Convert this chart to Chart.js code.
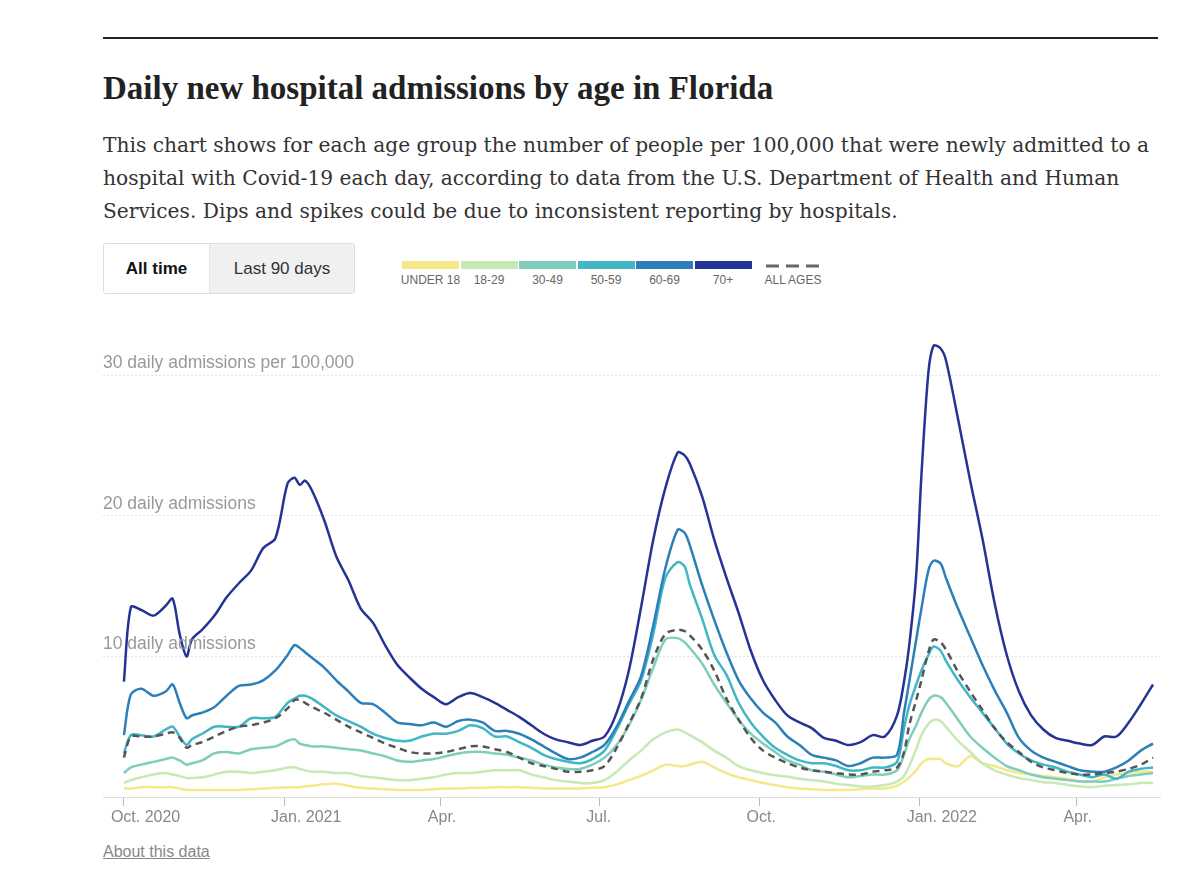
<!DOCTYPE html>
<html>
<head>
<meta charset="utf-8">
<script src="https://cdn.jsdelivr.net/npm/chart.js@4.4.1/dist/chart.umd.min.js"></script>
<style>
  body { margin: 0; background: #fff; width: 1200px; height: 875px; position: relative; overflow: hidden; }
  .rule { position: absolute; left: 103px; top: 37px; width: 1055px; height: 2px; background: #222; }
  h1 { position: absolute; left: 103px; top: 72px; margin: 0; font: bold 33px/33px "Liberation Serif", serif; color: #222; white-space: nowrap; }
  .sub { position: absolute; left: 103px; top: 129px; margin: 0; font: 20.2px/33px "DejaVu Serif", serif; color: #333; white-space: nowrap; }
  .btns { position: absolute; left: 103px; top: 243px; width: 250px; height: 49px; border: 1px solid #ddd; border-radius: 3px; display: flex; font: 17px "Liberation Sans", Arial, sans-serif; color: #333; overflow: hidden; }
  .btns div { display: flex; align-items: center; justify-content: center; }
  .b1 { width: 105px; background: #fff; font-weight: bold; color: #111; }
  .b2 { flex: 1; background: #f0f0f0; border-left: 1px solid #e4e4e4; }
  .legend { position: absolute; left: 402px; top: 261px; font: 12px "Liberation Sans", Arial, sans-serif; color: #666; }
  .seg { position: absolute; top: 0; height: 8px; }
  .lab { position: absolute; top: 12px; width: 70px; text-align: center; }
  #wrap { position: absolute; left: 0; top: 300px; width: 1200px; height: 540px; }
  .about { position: absolute; left: 103px; top: 843px; font: 16px "Liberation Sans", Arial, sans-serif; color: #888; text-decoration: underline; }
</style>
</head>
<body>
<div class="rule"></div>
<h1>Daily new hospital admissions by age in Florida</h1>
<p class="sub">This chart shows for each age group the number of people per 100,000 that were newly admitted to a<br>hospital with Covid-19 each day, according to data from the U.S. Department of Health and Human<br>Services. Dips and spikes could be due to inconsistent reporting by hospitals.</p>
<div class="btns"><div class="b1">All time</div><div class="b2">Last 90 days</div></div>
<div class="legend" id="legend"></div>
<div id="wrap"><canvas id="chart" width="1200" height="540"></canvas></div>
<div class="about">About this data</div>
<script>
// days since Oct. 1, 2020
const days = [0, 4, 10, 17, 24, 28, 32, 36, 39, 45, 52, 59, 66, 73, 80, 87, 94, 98, 101, 104,
  108, 115, 122, 129, 136, 143, 150, 157, 164, 171, 178, 185, 192, 199, 206, 213, 220, 227, 234, 241,
  248, 255, 262, 269, 276, 283, 290, 297, 304, 311, 318, 322, 325, 332, 339, 346, 353, 360, 367, 374,
  381, 388, 395, 402, 409, 416, 423, 430, 437, 444, 448, 451, 455, 458, 462, 465, 469, 472, 479, 486,
  493, 500, 507, 514, 521, 528, 535, 542, 549, 556, 563, 570, 577, 584, 591];

const under18 = [0.6, 0.6, 0.7, 0.7, 0.7, 0.7, 0.6, 0.5, 0.5, 0.5, 0.5, 0.5, 0.5, 0.55, 0.6, 0.65, 0.7, 0.7, 0.7, 0.75,
  0.8, 0.9, 0.95, 0.8, 0.65, 0.6, 0.55, 0.5, 0.5, 0.5, 0.55, 0.6, 0.6, 0.65, 0.65, 0.7, 0.7, 0.7, 0.65, 0.6,
  0.6, 0.6, 0.6, 0.65, 0.7, 0.9, 1.2, 1.5, 1.9, 2.3, 2.2, 2.2, 2.3, 2.5, 2.1, 1.7, 1.4, 1.2, 1.0, 0.85,
  0.7, 0.6, 0.55, 0.5, 0.5, 0.5, 0.55, 0.6, 0.6, 0.8, 1.1, 1.4, 1.9, 2.4, 2.7, 2.7, 2.7, 2.4, 2.2, 2.9,
  2.4, 2.2, 1.9, 1.7, 1.6, 1.5, 1.4, 1.3, 1.1, 1.1, 1.4, 1.6, 1.7, 1.8, 1.8];

const age18to29 = [1.0, 1.2, 1.4, 1.6, 1.7, 1.6, 1.5, 1.35, 1.35, 1.4, 1.6, 1.8, 1.8, 1.7, 1.8, 1.9, 2.1, 2.1, 2.0, 1.9,
  1.8, 1.8, 1.7, 1.7, 1.5, 1.4, 1.3, 1.2, 1.2, 1.3, 1.4, 1.6, 1.7, 1.7, 1.8, 1.9, 1.9, 1.9, 1.6, 1.4,
  1.2, 1.1, 1.0, 1.0, 1.2, 1.8, 2.6, 3.3, 4.1, 4.6, 4.8, 4.6, 4.4, 3.9, 3.3, 2.8, 2.2, 1.9, 1.7, 1.55,
  1.45, 1.3, 1.2, 1.1, 0.95, 0.85, 0.75, 0.75, 0.85, 1.1, 1.5, 2.2, 3.4, 4.4, 5.2, 5.5, 5.4, 5.0, 4.0, 3.2,
  2.4, 1.9, 1.6, 1.35, 1.2, 1.05, 1.0, 0.85, 0.75, 0.7, 0.8, 0.85, 0.9, 1.0, 1.0];

const age30to49 = [1.7, 2.1, 2.3, 2.5, 2.7, 2.8, 2.6, 2.3, 2.4, 2.6, 3.1, 3.2, 3.1, 3.4, 3.5, 3.6, 4.0, 4.1, 3.8, 3.7,
  3.6, 3.6, 3.5, 3.4, 3.3, 3.1, 2.9, 2.6, 2.5, 2.6, 2.7, 2.9, 3.1, 3.2, 3.2, 3.1, 3.0, 2.8, 2.6, 2.3,
  2.1, 2.0, 2.0, 2.3, 2.8, 3.7, 5.1, 6.9, 9.2, 11.2, 11.3, 11.0, 10.6, 9.5, 8.0, 6.7, 5.5, 4.5, 3.8, 3.2,
  2.6, 2.3, 1.9, 1.8, 1.6, 1.4, 1.5, 1.6, 1.6, 1.9, 3.0, 4.1, 5.1, 6.0, 6.9, 7.2, 7.1, 6.7, 5.5, 4.3,
  3.5, 2.8, 2.2, 1.9, 1.6, 1.4, 1.3, 1.2, 1.1, 1.1, 1.1, 1.3, 1.5, 1.6, 1.7];

const age50to59 = [3.1, 4.4, 4.4, 4.3, 4.8, 5.0, 4.3, 3.7, 4.1, 4.5, 5.0, 5.0, 5.0, 5.6, 5.6, 5.7, 6.7, 7.0, 7.2, 7.2,
  7.0, 6.4, 5.8, 5.4, 5.0, 4.5, 4.2, 4.0, 4.0, 4.3, 4.5, 4.5, 4.7, 5.1, 4.9, 4.3, 4.3, 3.9, 3.5, 3.0,
  2.7, 2.5, 2.4, 2.7, 3.3, 4.8, 6.6, 8.3, 11.6, 15.6, 16.7, 16.4, 15.1, 12.7, 10.1, 8.7, 6.7, 5.3, 4.3, 3.5,
  3.0, 2.6, 2.4, 2.4, 2.2, 1.9, 1.9, 2.1, 2.1, 2.5, 4.9, 6.5, 8.0, 9.0, 10.1, 10.7, 10.4, 9.7, 8.3, 7.1,
  6.0, 4.9, 3.8, 3.1, 2.6, 2.3, 2.1, 1.8, 1.6, 1.4, 1.6, 1.3, 1.8, 2.0, 2.1];

const age60to69 = [4.4, 7.3, 7.7, 7.2, 7.5, 8.0, 6.7, 5.6, 5.8, 6.0, 6.4, 7.2, 7.9, 8.0, 8.3, 9.0, 10.1, 10.8, 10.6, 10.3,
  9.9, 9.2, 8.3, 7.5, 6.7, 6.6, 6.0, 5.3, 5.2, 5.1, 5.3, 5.0, 5.4, 5.5, 5.3, 4.7, 4.7, 4.5, 4.1, 3.6,
  3.1, 2.7, 2.8, 3.2, 3.7, 5.0, 6.8, 8.6, 12.2, 16.3, 19.0, 18.8, 17.9, 15.1, 12.6, 10.3, 8.3, 7.0, 6.0, 5.3,
  4.3, 3.7, 3.0, 2.8, 2.6, 2.2, 2.4, 2.8, 2.8, 3.0, 6.0, 8.2, 11.2, 13.4, 16.1, 16.8, 16.6, 15.6, 13.4, 11.4,
  9.4, 7.6, 6.0, 4.2, 3.3, 2.8, 2.5, 2.2, 1.9, 1.8, 1.8, 2.1, 2.6, 3.3, 3.8];

const age70plus = [8.2, 13.5, 13.3, 12.9, 13.6, 14.1, 11.6, 10.0, 11.2, 11.9, 12.9, 14.2, 15.2, 16.1, 17.7, 18.4, 22.3, 22.7, 22.2, 22.5,
  21.8, 19.7, 17.1, 15.4, 13.4, 12.4, 10.8, 9.4, 8.5, 7.7, 7.1, 6.6, 7.1, 7.4, 7.1, 6.7, 6.2, 5.7, 5.1, 4.5,
  4.1, 3.9, 3.7, 4.0, 4.3, 6.0, 9.0, 13.5, 18.3, 22.0, 24.5, 24.3, 23.7, 21.4, 18.3, 15.6, 13.1, 10.4, 8.3, 6.9,
  5.8, 5.3, 4.9, 4.2, 4.0, 3.7, 3.9, 4.4, 4.3, 5.8, 8.2, 10.8, 15.8, 22.9, 30.2, 32.1, 31.9, 31.1, 26.9, 22.5,
  18.4, 13.8, 10.1, 7.5, 5.8, 4.8, 4.2, 4.0, 3.8, 3.7, 4.3, 4.3, 5.3, 6.6, 8.0];

const allAges = [2.8, 4.3, 4.3, 4.3, 4.5, 4.6, 4.2, 3.5, 3.7, 3.9, 4.3, 4.7, 5.0, 5.1, 5.3, 5.6, 6.3, 6.9, 6.9, 6.7,
  6.4, 6.0, 5.5, 5.0, 4.6, 4.2, 3.8, 3.5, 3.2, 3.1, 3.1, 3.2, 3.4, 3.6, 3.6, 3.4, 3.2, 2.8, 2.4, 2.2,
  2.0, 1.8, 1.8, 1.9, 2.2, 3.5, 5.2, 7.0, 9.8, 11.6, 11.9, 11.8, 11.5, 10.5, 9.0, 7.0, 5.5, 4.2, 3.3, 2.8,
  2.4, 2.1, 1.9, 1.8, 1.7, 1.6, 1.6, 1.8, 1.9, 2.1, 3.2, 5.1, 6.9, 8.3, 10.3, 11.2, 11.0, 10.5, 8.9, 7.5,
  6.2, 4.9, 3.9, 3.2, 2.5, 2.1, 1.9, 1.7, 1.6, 1.6, 1.7, 1.8, 2.0, 2.3, 2.8];

const groupLabels = ['UNDER 18', '18-29', '30-49', '50-59', '60-69', '70+'];
const groupColors = ['#f5e88a', '#c7e9b4', '#7fcdbb', '#41b6c4', '#2c7fb8', '#253494'];

const xTickDays = [0, 92, 182, 273, 365, 457, 547];
const xTickLabels = ['Oct. 2020', 'Jan. 2021', 'Apr.', 'Jul.', 'Oct.', 'Jan. 2022', 'Apr.'];
const yTickValues = [0, 10, 20, 30];
const yTickLabels = ['', '10 daily admissions', '20 daily admissions', '30 daily admissions per 100,000'];

// legend
const legend = document.getElementById('legend');
groupLabels.forEach((label, i) => {
    const seg = document.createElement('div');
    seg.className = 'seg';
    seg.style.left = (i * 58.5) + 'px';
    seg.style.width = '57px';
    seg.style.background = groupColors[i];
    legend.appendChild(seg);
    const lab = document.createElement('div');
    lab.className = 'lab';
    lab.style.left = (i * 58.5 + 28.5 - 35) + 'px';
    lab.textContent = label;
    legend.appendChild(lab);
});
legend.insertAdjacentHTML('beforeend',
    '<svg style="position:absolute;left:364px;top:2px" width="54" height="6"><line x1="0" y1="3" x2="54" y2="3" stroke="#666" stroke-width="3" stroke-dasharray="13,7"/></svg>' +
    '<div class="lab" style="left:356px">ALL AGES</div>');

const toPoints = (values) => values.map((v, i) => ({ x: days[i], y: v }));

const line = (label, values, color, extra) => Object.assign({
    label: label,
    data: toPoints(values),
    borderColor: color,
    borderWidth: 2.5,
    pointRadius: 0,
    tension: 0.3,
    fill: false
}, extra || {});

const ctx = document.getElementById('chart').getContext('2d');

const myChart = new Chart(ctx, {
    type: 'line',
    data: {
        datasets: [
            line('All ages', allAges, '#555', { borderDash: [7, 5], borderWidth: 2.5 }),
            line('70+', age70plus, groupColors[5]),
            line('60-69', age60to69, groupColors[4]),
            line('50-59', age50to59, groupColors[3]),
            line('30-49', age30to49, groupColors[2]),
            line('18-29', age18to29, groupColors[1]),
            line('Under 18', under18, groupColors[0])
        ]
    },
    options: {
        responsive: false,
        animation: false,
        layout: { padding: { left: 103, right: 40, top: 33, bottom: 0 } },
        plugins: { legend: { display: false }, tooltip: { enabled: false } },
        scales: {
            x: {
                type: 'linear',
                min: -12,
                max: 595,
                afterBuildTicks: (scale) => { scale.ticks = xTickDays.map(v => ({ value: v })); },
                afterFit: (scale) => { scale.height = 43; },
                ticks: {
                    padding: 2,
                    align: 'start',
                    labelOffset: -13,
                    color: '#888',
                    font: { family: 'Liberation Sans', size: 16 },
                    maxRotation: 0,
                    autoSkip: false,
                    callback: (value) => xTickLabels[xTickDays.indexOf(value)]
                },
                grid: { drawOnChartArea: false, drawTicks: true, tickLength: 9, tickColor: '#bbb', tickWidth: 1 },
                border: { display: true, color: '#ddd', width: 1 }
            },
            y: {
                min: 0,
                max: 33,
                afterBuildTicks: (scale) => { scale.ticks = yTickValues.map(v => ({ value: v })); },
                afterFit: (scale) => { scale.width = 0; },
                ticks: {
                    mirror: true,
                    padding: 0,
                    labelOffset: -12,
                    z: 1,
                    color: '#999',
                    font: { family: 'Liberation Sans', size: 17.5 },
                    callback: (value) => yTickLabels[yTickValues.indexOf(value)]
                },
                grid: {
                    drawTicks: false,
                    color: (c) => c.tick && c.tick.value === 0 ? 'rgba(0,0,0,0)' : '#e2e2e2'
                },
                border: { display: false, dash: [2, 2] }
            }
        }
    }
});
</script>
</body>
</html>
